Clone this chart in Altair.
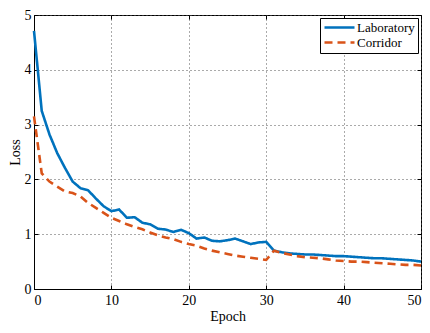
import altair as alt
import pandas as pd

epochs = list(range(51))
laboratory = [4.71, 3.25, 2.82, 2.48, 2.21, 1.96, 1.84, 1.80, 1.65, 1.51, 1.42,
              1.45, 1.30, 1.31, 1.21, 1.18, 1.10, 1.085, 1.04, 1.08, 1.02,
              0.92, 0.94, 0.88, 0.87, 0.89, 0.92, 0.87, 0.82, 0.85, 0.86,
              0.70, 0.67, 0.65, 0.64, 0.63, 0.63, 0.62, 0.61, 0.60, 0.60,
              0.59, 0.58, 0.57, 0.56, 0.56, 0.55, 0.54, 0.53, 0.52, 0.50]
corridor = [3.15, 2.11, 1.96, 1.87, 1.78, 1.75, 1.69, 1.57, 1.48, 1.39, 1.30,
            1.24, 1.18, 1.13, 1.09, 1.03, 0.98, 0.94, 0.91, 0.86, 0.82,
            0.79, 0.74, 0.70, 0.67, 0.64, 0.61, 0.59, 0.57, 0.55, 0.53,
            0.70, 0.66, 0.63, 0.60, 0.58, 0.57, 0.56, 0.54, 0.52, 0.51,
            0.50, 0.50, 0.49, 0.48, 0.47, 0.46, 0.45, 0.44, 0.44, 0.43]
series_names = ["Laboratory", "Corridor"]
series_colors = ["#0072BD", "#D95319"]
series_dashes = [[1, 0], [8, 5]]
x_ticks = [0, 10, 20, 30, 40, 50]
y_ticks = [0, 1, 2, 3, 4, 5]

df = pd.DataFrame({
    "Epoch": epochs * 2,
    "Loss": laboratory + corridor,
    "Series": [series_names[0]] * len(epochs) + [series_names[1]] * len(epochs),
})

FONT = "Liberation Serif"
xscale = alt.Scale(domain=[0, 50], nice=False, zero=False)
yscale = alt.Scale(domain=[0, 5], nice=False)

legend = alt.Legend(
    title=None, orient="top-right", offset=3, padding=3,
    strokeColor="black", fillColor="white",
    labelFont=FONT, labelFontSize=13, labelColor="black",
    symbolType="M-1,0H5", symbolSize=100, symbolStrokeWidth=2.6,
    labelOffset=21, rowPadding=1,
)

base = alt.Chart(df)

lines = base.mark_line(strokeWidth=2.6).encode(
    x=alt.X("Epoch:Q", scale=xscale, axis=alt.Axis(
        orient="bottom", values=x_ticks, title="Epoch", grid=True,
        gridDash=[1, 3], gridColor="#555", gridWidth=1,
        tickSize=0, labelPadding=4, domainColor="black", domainWidth=1,
        labelFont=FONT, labelFontSize=14, labelColor="black",
        titleFont=FONT, titleFontSize=14, titleFontWeight="normal",
        titleColor="black", titlePadding=2)),
    y=alt.Y("Loss:Q", scale=yscale, axis=alt.Axis(
        orient="left", values=y_ticks, title="Loss", grid=True,
        gridDash=[1, 3], gridColor="#555", gridWidth=1,
        tickSize=0, labelPadding=3, domainColor="black", domainWidth=1,
        labelFont=FONT, labelFontSize=14, labelColor="black",
        titleFont=FONT, titleFontSize=14, titleFontWeight="normal",
        titleColor="black", titlePadding=2)),
    color=alt.Color("Series:N", sort=series_names,
                    scale=alt.Scale(domain=series_names, range=series_colors),
                    legend=legend),
    strokeDash=alt.StrokeDash("Series:N", sort=series_names,
                              scale=alt.Scale(domain=series_names, range=series_dashes),
                              legend=legend),
)


def tick_axis(orient, values):
    return alt.Axis(orient=orient, values=values, offset=-4, tickSize=4,
                    tickColor="black", tickWidth=1, labels=False, title=None,
                    domain=False, grid=False)


ticks_a = base.mark_point(opacity=0).encode(
    x=alt.X("Epoch:Q", scale=xscale, axis=tick_axis("bottom", x_ticks)),
    y=alt.Y("Loss:Q", scale=yscale, axis=tick_axis("left", y_ticks)),
)
ticks_b = base.mark_point(opacity=0).encode(
    x=alt.X("Epoch:Q", scale=xscale, axis=tick_axis("top", x_ticks)),
    y=alt.Y("Loss:Q", scale=yscale, axis=tick_axis("right", y_ticks)),
)

chart = alt.layer(lines, ticks_a, ticks_b).resolve_axis(
    x="independent", y="independent"
).properties(
    width=387, height=274,
    autosize=alt.AutoSizeParams(type="none"),
    padding={"left": 26, "top": 7, "right": 1, "bottom": 36},
    background="white",
).configure_view(stroke="black", strokeWidth=1)

chart.save("out.html", embed_options={"renderer": "svg", "actions": False})
